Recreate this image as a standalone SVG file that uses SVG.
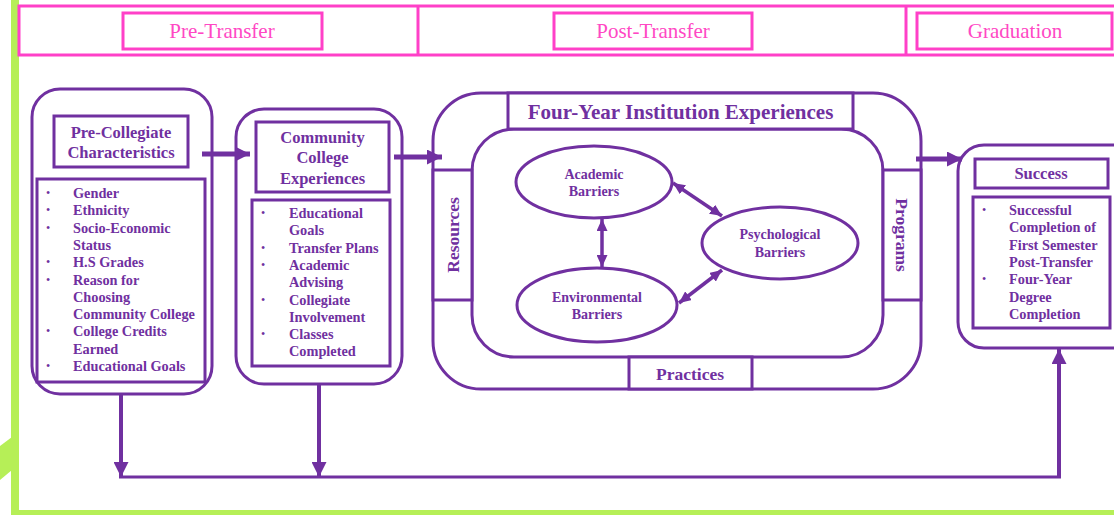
<svg xmlns="http://www.w3.org/2000/svg" width="1114" height="515" viewBox="0 0 1114 515">
<style>
.pk{fill:none;stroke:#ff40c8;stroke-width:3}
.pt{fill:#ff48c4;font-family:"Liberation Serif",serif;font-size:21px;text-anchor:middle}
.bx{fill:#fff;stroke:#7030a0;stroke-width:3}
.ln{fill:none;stroke:#7030a0}
.t{fill:#7030a0;font-family:"Liberation Serif",serif;font-weight:bold}
.h{font-size:16.5px;text-anchor:middle}
.l{font-size:14.3px}
.e{font-size:14px;text-anchor:middle}
.s{font-size:17.5px;text-anchor:middle}
.b{font-size:12px;font-weight:normal}
</style>
<defs>
<marker id="big" viewBox="0 0 15 15" refX="15" refY="7.5" markerWidth="15" markerHeight="15" markerUnits="userSpaceOnUse" orient="auto">
<path d="M0,0 L15,7.5 L0,15 Z" fill="#7030a0"/>
</marker>
<marker id="sm" viewBox="0 0 12 11" refX="12" refY="5.5" markerWidth="12" markerHeight="11" markerUnits="userSpaceOnUse" orient="auto-start-reverse">
<path d="M0,0 L12,5.5 L0,11 Z" fill="#7030a0"/>
</marker>
</defs>
<rect x="0" y="0" width="1114" height="515" fill="#fff"/>
<g id="frame">
<rect x="11" y="0" width="8" height="515" fill="#b6ef57"/>
<rect x="11" y="510" width="1103" height="5" fill="#b6ef57"/>
<polygon points="0,446 12,437 12,470 0,480" fill="#b6ef57"/>
</g>
<g id="header">
<rect class="pk" x="19" y="6" width="1100" height="49"/>
<line class="pk" x1="418" y1="6" x2="418" y2="55"/>
<line class="pk" x1="906" y1="6" x2="906" y2="55"/>
<rect class="pk" x="123" y="13" width="199" height="36"/>
<text class="pt" x="222" y="38">Pre-Transfer</text>
<rect class="pk" x="554" y="13" width="198" height="36"/>
<text class="pt" x="653" y="38">Post-Transfer</text>
<rect class="pk" x="917" y="13" width="195" height="36"/>
<text class="pt" x="1015" y="38">Graduation</text>
</g>
<g id="pre-collegiate">
<rect class="bx" x="32" y="89" width="180" height="305" rx="28"/>
<rect class="bx" x="54" y="116" width="134" height="51"/>
<text class="t h" x="121" y="138">Pre-Collegiate</text>
<text class="t h" x="121" y="158">Characteristics</text>
<rect class="bx" x="37" y="179" width="168" height="203"/>
<g class="t l">
<text class="b" x="46" y="197">•</text><text x="73" y="198">Gender</text>
<text class="b" x="46" y="214.3">•</text><text x="73" y="215.3">Ethnicity</text>
<text class="b" x="46" y="231.6">•</text><text x="73" y="232.6">Socio-Economic</text>
<text x="73" y="249.9">Status</text>
<text class="b" x="46" y="266.2">•</text><text x="73" y="267.2">H.S Grades</text>
<text class="b" x="46" y="283.5">•</text><text x="73" y="284.5">Reason for</text>
<text x="73" y="301.8">Choosing</text>
<text x="73" y="319.1">Community College</text>
<text class="b" x="46" y="335.4">•</text><text x="73" y="336.4">College Credits</text>
<text x="73" y="353.7">Earned</text>
<text class="b" x="46" y="370">•</text><text x="73" y="371">Educational Goals</text>
</g>
</g>
<g id="community-college">
<rect class="bx" x="236" y="109" width="166" height="275" rx="28"/>
<rect class="bx" x="256" y="122" width="133" height="70"/>
<text class="t h" x="322.5" y="143">Community</text>
<text class="t h" x="322.5" y="163">College</text>
<text class="t h" x="322.5" y="184">Experiences</text>
<rect class="bx" x="252" y="200" width="138" height="166"/>
<g class="t l">
<text class="b" x="261" y="217">•</text><text x="289" y="218">Educational</text>
<text x="289" y="235.3">Goals</text>
<text class="b" x="261" y="251.6">•</text><text x="289" y="252.6">Transfer Plans</text>
<text class="b" x="261" y="268.9">•</text><text x="289" y="269.9">Academic</text>
<text x="289" y="287.2">Advising</text>
<text class="b" x="261" y="303.5">•</text><text x="289" y="304.5">Collegiate</text>
<text x="289" y="321.8">Involvement</text>
<text class="b" x="261" y="338.1">•</text><text x="289" y="339.1">Classes</text>
<text x="289" y="356.4">Completed</text>
</g>
</g>
<g id="four-year">
<rect class="bx" x="433" y="93" width="488" height="296" rx="48"/>
<rect class="bx" x="472" y="129" width="411" height="228" rx="42"/>
<rect class="bx" x="508" y="93" width="345" height="36"/>
<text class="t" x="680.5" y="119" font-size="21" text-anchor="middle">Four-Year Institution Experiences</text>
<rect class="bx" x="433" y="170" width="39" height="130"/>
<text class="t s" transform="translate(459,235) rotate(-90)" x="0" y="0">Resources</text>
<rect class="bx" x="883" y="170" width="38" height="130"/>
<text class="t s" transform="translate(896,235) rotate(90)" x="0" y="0">Programs</text>
<rect class="bx" x="629" y="357" width="123" height="32"/>
<text class="t s" x="690" y="380">Practices</text>
</g>
<g id="academic-barriers">
<ellipse class="bx" cx="594" cy="182" rx="78" ry="36"/>
<text class="t e" x="594" y="179">Academic</text>
<text class="t e" x="594" y="196">Barriers</text>
</g>
<g id="psychological-barriers">
<ellipse class="bx" cx="780" cy="243" rx="78" ry="36"/>
<text class="t e" x="780" y="239">Psychological</text>
<text class="t e" x="780" y="257">Barriers</text>
</g>
<g id="environmental-barriers">
<ellipse class="bx" cx="597" cy="305" rx="80" ry="37"/>
<text class="t e" x="597" y="302">Environmental</text>
<text class="t e" x="597" y="319">Barriers</text>
</g>
<g id="success">
<rect class="bx" x="958" y="145" width="180" height="203" rx="26"/>
<rect class="bx" x="975" y="159" width="133" height="29"/>
<text class="t h" x="1041" y="179">Success</text>
<rect class="bx" x="973" y="197" width="137" height="131"/>
<g class="t l">
<text class="b" x="982" y="214">•</text><text x="1009" y="215">Successful</text>
<text x="1009" y="232.3">Completion of</text>
<text x="1009" y="249.6">First Semester</text>
<text x="1009" y="266.9">Post-Transfer</text>
<text class="b" x="982" y="283.2">•</text><text x="1009" y="284.2">Four-Year</text>
<text x="1009" y="301.5">Degree</text>
<text x="1009" y="318.8">Completion</text>
</g>
</g>
<g id="connectors">
<line class="ln" stroke-width="5" x1="202" y1="154" x2="250" y2="154" marker-end="url(#big)"/>
<line class="ln" stroke-width="5" x1="394" y1="157" x2="442" y2="157" marker-end="url(#big)"/>
<line class="ln" stroke-width="5" x1="916" y1="159" x2="962" y2="159" marker-end="url(#big)"/>
<line class="ln" stroke-width="4" x1="121" y1="395" x2="121" y2="477" marker-end="url(#big)"/>
<line class="ln" stroke-width="4" x1="319" y1="385" x2="319" y2="477" marker-end="url(#big)"/>
<line class="ln" stroke-width="3" x1="119" y1="477" x2="1061" y2="477"/>
<line class="ln" stroke-width="4" x1="1059" y1="478" x2="1059" y2="349" marker-end="url(#big)"/>
<line class="ln" stroke-width="3.5" x1="673" y1="183" x2="722" y2="216" marker-start="url(#sm)" marker-end="url(#sm)"/>
<line class="ln" stroke-width="3.5" x1="602" y1="219" x2="602" y2="267" marker-start="url(#sm)" marker-end="url(#sm)"/>
<line class="ln" stroke-width="3.5" x1="679" y1="303" x2="722" y2="270" marker-start="url(#sm)" marker-end="url(#sm)"/>
</g>
</svg>
